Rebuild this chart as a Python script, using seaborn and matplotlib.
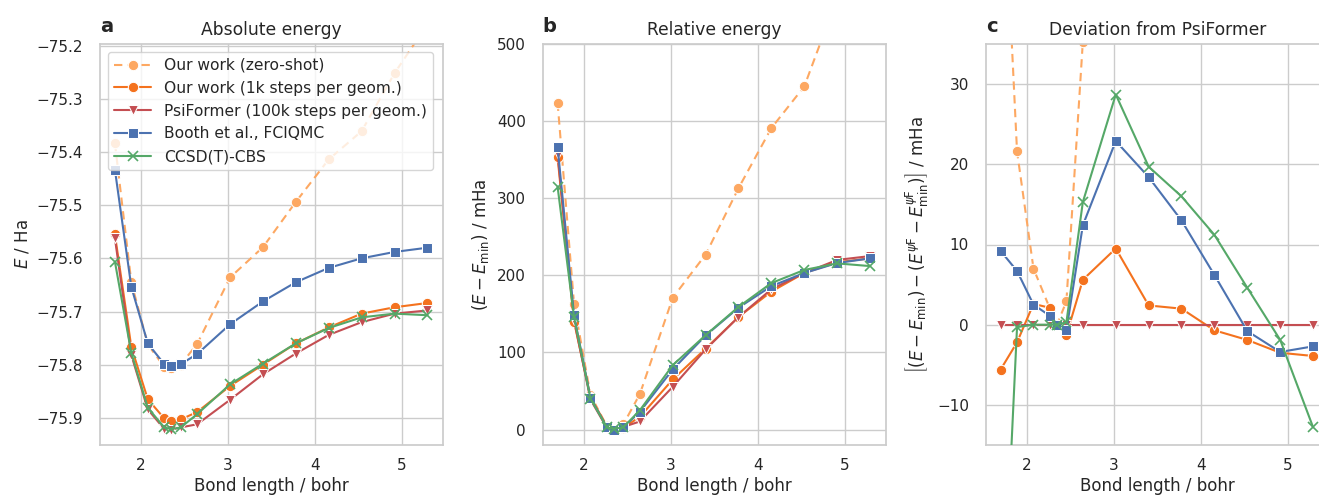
import matplotlib
matplotlib.use("Agg")
import matplotlib.pyplot as plt
import seaborn as sns

# ---------------- data ----------------
bond_length = [1.701, 1.890, 2.079, 2.268, 2.348, 2.457, 2.646,
               3.024, 3.402, 3.779, 4.157, 4.535, 4.913, 5.291]

series_labels = ["Our work (zero-shot)", "Our work (1k steps per geom.)",
                 "PsiFormer (100k steps per geom.)", "Booth et al., FCIQMC",
                 "CCSD(T)-CBS"]

# panel a: absolute energy / Ha
zero_shot_abs = [-75.383, -75.645, -75.762, -75.804, -75.807, -75.800, -75.761,
                 -75.636, -75.579, -75.494, -75.414, -75.361, -75.252, -75.160]
ours_1k_abs = [-75.555, -75.767, -75.865, -75.901, -75.905, -75.903, -75.889,
               -75.840, -75.800, -75.760, -75.730, -75.704, -75.692, -75.684]
psiformer_abs = [-75.562, -75.782, -75.884, -75.921, -75.922, -75.918, -75.912,
                 -75.866, -75.818, -75.779, -75.744, -75.720, -75.704, -75.698]
booth_abs = [-75.433, -75.654, -75.760, -75.799, -75.802, -75.799, -75.780,
             -75.724, -75.681, -75.645, -75.618, -75.600, -75.588, -75.580]
ccsdt_abs = [-75.606, -75.778, -75.881, -75.918, -75.921, -75.918, -75.893,
             -75.837, -75.798, -75.760, -75.731, -75.711, -75.704, -75.707]

# panel b: relative energy / mHa
zero_shot_rel = [424, 163, 45, 4, 0, 7, 46, 171, 227, 313, 391, 445, 560, 650]
ours_1k_rel = [353, 140, 42, 4, 0, 2.5, 16.5, 65, 105, 146, 179, 203, 217, 222]
psiformer_rel = [358, 142, 39, 2, 0, 3.5, 10.5, 55.5, 104, 146, 182, 203, 220, 225]
booth_rel = [367, 148, 41, 3, 0, 3, 23, 78, 122, 158, 186, 203, 216, 222]
ccsdt_rel = [315, 146, 40, 3, 1, 3, 25, 83.5, 122.5, 159, 190, 207, 215.5, 212]

# panel c: deviation from PsiFormer / mHa
zero_shot_dev = [64, 21.6, 7.0, 2.0, 0.0, 2.9, 35.3, 116, 122, 167, 209, 242, 340, 425]
ours_1k_dev = [-5.6, -2.2, 2.6, 2.1, 0.0, -1.3, 5.6, 9.5, 2.4, 2.0, -0.7, -1.9, -3.5, -3.9]
psiformer_dev = [0, 0, 0, 0, 0, 0, 0, 0, 0, 0, 0, 0, 0, 0]
booth_dev = [9.2, 6.7, 2.5, 1.1, 0.0, -0.7, 12.4, 22.9, 18.4, 13.0, 6.2, -0.8, -3.4, -2.7]
ccsdt_dev = [-44, -0.3, 0.0, 0.0, 0.0, 0.3, 15.3, 28.7, 19.7, 16.0, 11.2, 4.6, -1.9, -12.8]

panel_titles = ["Absolute energy", "Relative energy", "Deviation from PsiFormer"]
panel_letters = ["a", "b", "c"]
y_labels = [r"$E$ / Ha",
            r"$(E - E_\mathrm{min})$ / mHa",
            r"$\left[(E - E_\mathrm{min}) - (E^{\psi\mathrm{F}} - E^{\psi\mathrm{F}}_\mathrm{min})\right]$ / mHa"]
x_ticks = [2, 3, 4, 5]
y_ticks = [[-75.9, -75.8, -75.7, -75.6, -75.5, -75.4, -75.3, -75.2],
           [0, 100, 200, 300, 400, 500],
           [-10, 0, 10, 20, 30]]
y_lims = [(-75.951, -75.197), (-20, 500), (-15, 35)]

panels = [
    [zero_shot_abs, ours_1k_abs, psiformer_abs, booth_abs, ccsdt_abs],
    [zero_shot_rel, ours_1k_rel, psiformer_rel, booth_rel, ccsdt_rel],
    [zero_shot_dev, ours_1k_dev, psiformer_dev, booth_dev, ccsdt_dev],
]

# ---------------- style ----------------
colors = ["#fda862", "#f4721e", "#c44e52", "#4c72b0", "#55a868"]
markers = ["o", "o", "v", "s", "x"]
linestyles = [(0, (4, 2.6)), "-", "-", "-", "-"]

sns.set_theme(style="whitegrid")
plt.rcParams.update({
    "font.family": ["DejaVu Sans"],
    "axes.titlesize": 12.3,
    "axes.labelsize": 12,
    "xtick.labelsize": 11,
    "ytick.labelsize": 11,
    "legend.fontsize": 11.2,
    "text.color": "#262626",
    "axes.labelcolor": "#262626",
    "xtick.color": "#262626",
    "ytick.color": "#262626",
    "mathtext.fontset": "dejavusans",
})

W, H = 1319, 496
fig = plt.figure(figsize=(W / 100, H / 100), dpi=100)
lefts = [100, 542.7, 985.7]
axes = [fig.add_axes([l / W, 51 / H, 343 / W, 401 / H]) for l in lefts]

for p, ax in enumerate(axes):
    for i, vals in enumerate(panels[p]):
        kws = dict(x=bond_length, y=vals, ax=ax, color=colors[i],
                   marker=markers[i], linestyle=linestyles[i],
                   linewidth=1.5, markersize=7.5, zorder=2 + i)
        if markers[i] == "x":
            kws.update(markeredgecolor=colors[i], markeredgewidth=1.2,
                       markersize=7)
        if p == 0:
            kws["label"] = series_labels[i]
        sns.lineplot(**kws)
    ax.set_xlim(1.53, 5.47)
    ax.set_ylim(*y_lims[p])
    ax.set_xticks(x_ticks)
    ax.set_yticks(y_ticks[p])
    ax.set_xlabel("Bond length / bohr", labelpad=3)
    ax.set_ylabel(y_labels[p])
    ax.set_title(panel_titles[p], pad=6.5)
    ax.tick_params(axis="x", length=0, pad=9)
    ax.tick_params(axis="y", length=0, pad=12)
    ax.text(0.0, 1.031, panel_letters[p], transform=ax.transAxes,
            fontsize=14, fontweight="bold", va="baseline", ha="left")

axes[0].legend(loc="upper left", handlelength=2.4, borderaxespad=0.5)

fig.savefig("out.png", dpi=100)
